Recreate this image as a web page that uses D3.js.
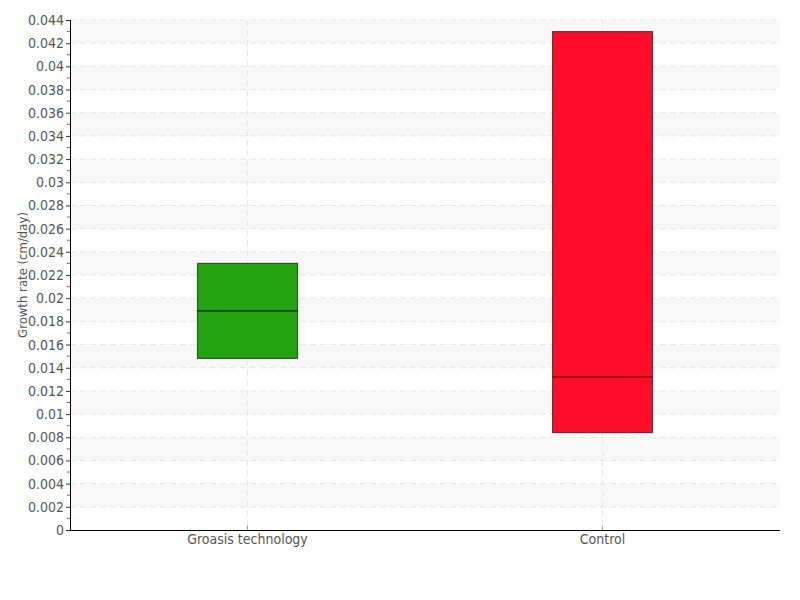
<!DOCTYPE html>
<html>
<head>
<meta charset="utf-8">
<script src="https://cdn.jsdelivr.net/npm/d3@7"></script>
<style>
html,body{margin:0;padding:0;background:#fff;}
svg{display:block;}
text{font-family:"DejaVu Sans Condensed","Roboto",sans-serif;fill:#555;}
</style>
</head>
<body>
<svg id="chart" width="800" height="600"></svg>
<script>
const categories = ["Groasis technology", "Control"];
const q1Values = [0.0148, 0.0084];
const medianValues = [0.0189, 0.0132];
const q3Values = [0.0230, 0.0430];
const colors = ["#23a511", "#ff0d28"];
const yMajorTicks = [0,0.002,0.004,0.006,0.008,0.01,0.012,0.014,0.016,0.018,0.02,0.022,0.024,0.026,0.028,0.03,0.032,0.034,0.036,0.038,0.04,0.042,0.044];
const yMinorTicks = [0.001,0.003,0.005,0.007,0.009,0.011,0.013,0.015,0.017,0.019,0.021,0.023,0.025,0.027,0.029,0.031,0.033,0.035,0.037,0.039,0.041,0.043];
const yLabel = "Growth rate (cm/day)";

(function () {
const svg = d3.select("#chart");
const mLeft = 70, mRight = 780, mTop = 20, mBottom = 530;

const y = d3.scaleLinear().domain([0, 0.044]).range([mBottom, mTop]);
const x = d3.scaleBand().domain(categories).range([mLeft, mRight]);

// alternating bands
const bands = [];
for (let i = 0; i + 1 < yMajorTicks.length; i++) {
  const hi = yMajorTicks[yMajorTicks.length - 1 - i];
  const lo = yMajorTicks[yMajorTicks.length - 2 - i];
  if (i % 2 === 0) bands.push([lo, hi]);
}
svg.append("g").selectAll("rect").data(bands).join("rect")
  .attr("x", mLeft).attr("width", mRight - mLeft)
  .attr("y", d => y(d[1])).attr("height", d => y(d[0]) - y(d[1]))
  .attr("fill", "#f8f8f8");

// horizontal dashed grid
svg.append("g").selectAll("line").data(yMajorTicks.filter(d => d > 0)).join("line")
  .attr("x1", mLeft).attr("x2", mRight)
  .attr("y1", d => y(d)).attr("y2", d => y(d))
  .attr("stroke", "#e6e6e6").attr("stroke-dasharray", "6,4").attr("stroke-width", 1);

// vertical dashed grid
svg.append("g").selectAll("line").data(categories).join("line")
  .attr("x1", d => x(d) + x.bandwidth() / 2).attr("x2", d => x(d) + x.bandwidth() / 2)
  .attr("y1", mTop).attr("y2", mBottom)
  .attr("stroke", "#e6e6e6").attr("stroke-dasharray", "6,4").attr("stroke-width", 1);

// boxes
const boxW = 100;
const data = categories.map((c, i) => ({c, q1: q1Values[i], med: medianValues[i], q3: q3Values[i], color: colors[i]}));
const g = svg.append("g");
g.selectAll("rect.box").data(data).join("rect")
  .attr("class", "box")
  .attr("x", d => x(d.c) + x.bandwidth() / 2 - boxW / 2)
  .attr("width", boxW)
  .attr("y", d => y(d.q3))
  .attr("height", d => y(d.q1) - y(d.q3))
  .attr("fill", d => d.color)
  .attr("stroke", "rgba(0,0,0,0.6)").attr("stroke-width", 1.2);
g.selectAll("line.med").data(data).join("line")
  .attr("class", "med")
  .attr("x1", d => x(d.c) + x.bandwidth() / 2 - boxW / 2)
  .attr("x2", d => x(d.c) + x.bandwidth() / 2 + boxW / 2)
  .attr("y1", d => y(d.med)).attr("y2", d => y(d.med))
  .attr("stroke", "rgba(0,0,0,0.75)").attr("stroke-width", 1.2);

// minor ticks (red)
svg.append("g").selectAll("line").data(yMinorTicks).join("line")
  .attr("x1", mLeft - 3).attr("x2", mLeft)
  .attr("y1", d => y(d)).attr("y2", d => y(d))
  .attr("stroke", "#ff2a2a").attr("stroke-width", 1);

// y axis
const yAxis = d3.axisLeft(y).tickValues(yMajorTicks).tickFormat(d => String(+d.toFixed(3))).tickSize(4).tickPadding(2);
const ya = svg.append("g").attr("transform", `translate(${mLeft},0)`).call(yAxis);
ya.select(".domain").attr("stroke", "#000").attr("d", `M0.5,${mTop}V${mBottom}`);
ya.selectAll(".tick line").attr("stroke", "#333");
ya.selectAll(".tick text").style("font-size", "14px").attr("fill", "#555")
  .style("font-family", '"DejaVu Sans Condensed",sans-serif');

// x axis
const xAxis = d3.axisBottom(x).tickSize(0).tickPadding(4);
const xa = svg.append("g").attr("transform", `translate(0,${mBottom})`).call(xAxis);
xa.select(".domain").attr("stroke", "#000").attr("d", `M${mLeft},0.5H${mRight}`);
xa.selectAll(".tick text").style("font-size", "14px").attr("fill", "#555")
  .style("font-family", '"DejaVu Sans Condensed",sans-serif');
xa.selectAll(".tick").append("line").attr("y1", 0).attr("y2", -4).attr("stroke", "#999");

// y label
svg.append("text")
  .attr("transform", `translate(27,${(mTop + mBottom) / 2}) rotate(-90)`)
  .attr("text-anchor", "middle")
  .style("font-size", "13px")
  .text(yLabel);
})();
</script>
</body>
</html>
